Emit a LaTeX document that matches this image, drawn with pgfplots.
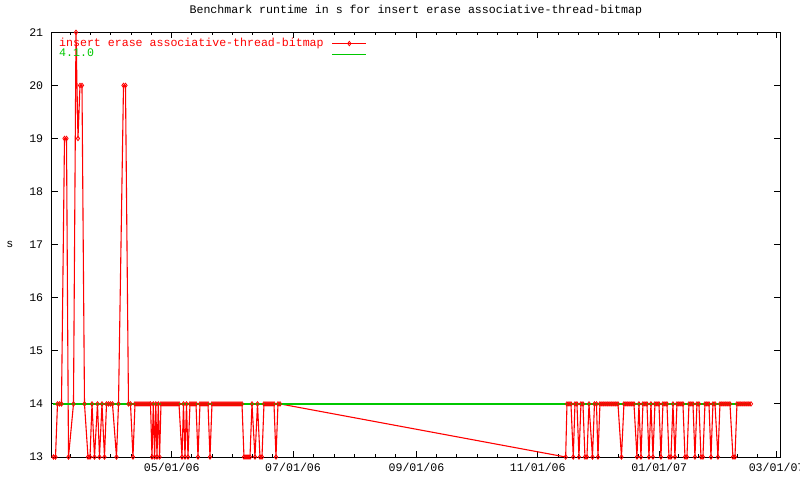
\documentclass[border=0pt]{standalone}
\usepackage{pgfplots}
\pgfplotsset{compat=1.18}
\usepackage{fontspec}
\setmainfont{Liberation Mono}
\definecolor{gpred}{RGB}{255,0,0}
\definecolor{gpgreen}{RGB}{0,200,0}
\newcommand{\gpfont}{\fontsize{11.6bp}{13bp}\selectfont}

\begin{document}
\begin{tikzpicture}
\useasboundingbox (0,0) rectangle (800bp,480bp);
\begin{axis}[
 at={(51.7bp,23bp)}, anchor=south west,
 scale only axis, width=728.3bp, height=424.7bp,
 xmin=-60.3, xmax=305.7, ymin=13, ymax=21,
 xtick={0,61,123,184,245,304},
 xticklabels={05/01/06,07/01/06,09/01/06,11/01/06,01/01/07,03/01/07},
 minor xtick={-50.8,-40.7,-30.5,-20.3,-10.2,10.2,20.3,30.5,40.7,50.8,71.3,81.7,92,102.3,112.7,133.2,143.3,153.5,163.7,173.8,194.2,204.3,214.5,224.7,234.8,254.8,264.7,274.5,284.3,294.2},
 ytick={13,14,15,16,17,18,19,20,21},
 major tick length=6bp, minor tick length=3bp,
 tick style={black, line width=1bp},
 axis line style={line width=1bp},
 tick label style={font=\gpfont},
 xticklabel style={yshift=-3bp},
 yticklabel style={xshift=-5bp},
 /pgf/number format/assume math mode=true,
 title={Benchmark runtime in s for insert erase associative-thread-bitmap},
 title style={font=\gpfont, at={(axis description cs:0.5,1.0313)}, anchor=base},
 ylabel={s},
 ylabel style={font=\gpfont, rotate=-90, at={(axis description cs:-0.0573,0.5)}, anchor=center},
 legend plot pos=right,
 legend cell align=left,
 legend style={draw=none, fill=none, at={(axis description cs:0.01,0.9866)}, anchor=north west, font=\gpfont, inner sep=0pt, nodes={inner sep=0pt, text height=8bp, text depth=2.7bp}, /tikz/column 1/.style={column sep=8bp}},
 legend image code/.code={\draw[mark repeat=2,mark phase=2,#1] plot coordinates {(0bp,0bp) (17bp,0bp) (34bp,0bp)};},
]
\addplot[color=gpred, line width=1.1bp, mark=diamond, mark size=2.2bp, mark options={solid, line width=0.8bp}] coordinates {
(-59.40,13) (-58.39,13) (-57.39,14) (-56.38,14) (-55.38,14) (-53.87,19) (-52.86,19) (-51.86,13) (-49.35,14) (-48.09,21) (-47.09,19) (-46.08,20) (-45.08,20) (-43.82,14) (-42.06,13) (-41.05,13) (-40.05,14) (-38.79,13) (-37.29,14) (-36.28,13) (-35.03,14) (-33.77,13) (-32.76,14) (-31.76,14) (-30.75,14) (-29.75,14) (-27.74,13) (-26.73,14) (-24.22,20) (-23.22,20) (-21.71,14) (-20.70,14) (-19.45,13) (-18.44,14) (-17.44,14) (-16.43,14) (-15.43,14) (-14.42,14) (-13.42,14) (-12.41,14) (-11.41,14) (-10.65,14) (-9.90,13) (-9.25,14) (-8.59,13) (-7.99,14) (-7.39,13) (-6.73,14) (-6.08,13) (-5.38,14) (-4.37,14) (-3.37,14) (-2.36,14) (-1.36,14) (-0.35,14) (0.65,14) (1.66,14) (2.66,14) (3.67,14) (5.18,13) (5.93,14) (6.68,13) (7.44,14) (8.19,13) (9.20,14) (10.20,14) (11.21,14) (12.21,14) (13.22,13) (14.22,14) (15.23,14) (16.23,14) (17.24,14) (18.24,14) (19.25,13) (20.25,14) (21.26,14) (22.26,14) (23.27,14) (24.27,14) (25.28,14) (26.28,14) (27.29,14) (28.29,14) (29.30,14) (30.30,14) (31.31,14) (32.31,14) (33.32,14) (34.32,14) (35.33,14) (36.33,13) (37.34,13) (38.34,13) (39.35,13) (40.35,14) (41.86,13) (43.12,14) (44.37,13) (45.38,13) (46.38,14) (47.39,14) (48.39,14) (49.40,14) (50.40,14) (51.41,14) (52.41,13) (53.42,14) (54.42,14)
(197.99,13) (198.64,14) (199.65,14) (200.65,14) (201.81,13) (202.66,14) (203.66,14) (204.67,13) (205.67,14) (206.68,14) (207.68,13) (208.69,13) (209.70,14) (211.46,13) (212.46,14) (213.47,14) (214.22,13) (215.22,14) (216.23,14) (217.23,14) (218.24,14) (219.24,14) (220.25,14) (221.25,14) (222.26,14) (223.26,14) (224.27,14) (226.03,13) (227.28,14) (228.29,14) (229.29,14) (230.30,14) (231.30,14) (232.31,14) (233.82,13) (234.82,14) (235.83,13) (236.83,14) (237.84,14) (238.84,14) (239.85,13) (240.85,14) (241.86,13) (242.86,14) (243.87,14) (244.87,14) (245.88,13) (246.88,14) (247.89,14) (248.89,14) (249.90,13) (250.90,13) (251.91,14) (252.91,13) (253.92,14) (254.92,14) (255.93,14) (256.93,14) (257.94,13) (258.94,13) (259.95,14) (260.95,14) (261.96,14) (262.96,13) (263.97,14) (264.97,14) (265.98,13) (266.98,13) (267.99,14) (268.99,14) (270.00,14) (271.01,13) (272.01,14) (273.02,14) (274.52,13) (275.53,14) (276.53,14) (277.54,14) (278.54,14) (279.55,14) (280.55,14) (282.06,13) (283.07,13) (284.07,14) (285.08,14) (286.08,14) (287.09,14) (288.09,14) (289.10,14) (290.10,14) (291.11,14)
};
\addlegendentry{\textcolor{gpred}{insert erase associative-thread-bitmap}}
\addplot[color=gpgreen, line width=1.3bp] coordinates {(-59.40,14) (291.11,14)};
\addlegendentry{\textcolor{gpgreen}{4.1.0}}
\end{axis}
\end{tikzpicture}
\end{document}
